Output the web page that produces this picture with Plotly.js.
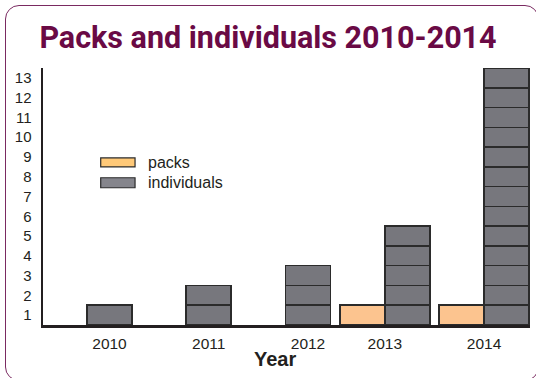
<!DOCTYPE html>
<html>
<head>
<meta charset="utf-8">
<script src="https://cdn.plot.ly/plotly-3.0.1.min.js"></script>
<style>
html,body{margin:0;padding:0;background:#fff;}
#wrap{position:relative;width:536px;height:378px;overflow:hidden;}
#chart{position:absolute;left:0;top:0;width:536px;height:378px;}
#frame{position:absolute;left:5px;top:5px;width:534px;height:376px;border:1.5px solid #7a2a61;border-radius:14px;pointer-events:none;box-sizing:border-box;}
</style>
</head>
<body>
<div id="wrap"><div id="chart"></div><div id="frame"></div></div>
<script>
// Data
const years = [2010, 2011, 2012, 2013, 2014];
const yearLabels = ['2010', '2011', '2012', '2013', '2014'];
const packs = [0, 0, 0, 1, 1];
const individuals = [1, 2, 3, 5, 13];
const yTickLabels = ['1','2','3','4','5','6','7','8','9','10','11','12','13'];

const barW = 0.453;
const packColor = '#fcc48f';
const indColor = '#77777d';
const edge = {color: '#2b2b2b', width: 1.6};
const txtFont = 'Liberation Sans, Arial';

const traces = [];
function unitTraces(values, xs, color, name) {
  const maxV = Math.max(...values);
  for (let k = 1; k <= maxV; k++) {
    traces.push({
      type: 'bar', name: name, showlegend: false, hoverinfo: 'skip',
      x: xs, y: values.map(v => v >= k ? 1 : null),
      width: xs.map(() => barW),
      marker: {color: color, line: edge}
    });
  }
}
const indX = years.slice();
const packX = years.map(y => y - barW);
unitTraces(individuals, indX, indColor, 'individuals');
unitTraces(packs, packX, packColor, 'packs');

// tick positions: centre of the bars present in each year
const tickVals = years.map((y, i) => {
  const c = [];
  if (packs[i] > 0) c.push(packX[i]);
  if (individuals[i] > 0) c.push(indX[i]);
  return c.reduce((a, b) => a + b, 0) / c.length;
});
const yTickVals = yTickLabels.map((t, i) => i + 0.5);

const layout = {
  width: 536, height: 378,
  margin: {l: 43, r: 6, t: 68, b: 53},
  paper_bgcolor: '#fff', plot_bgcolor: '#fff',
  barmode: 'stack',
  showlegend: false,
  title: {text: 'Packs and individuals 2010-2014', x: 0.5, xanchor: 'center', y: 0.9, yref: 'container', yanchor: 'middle',
    font: {family: 'Roboto', size: 30.5, color: '#6a0a45', weight: 700}},
  xaxis: {
    range: [2009.33, 2014.237], showgrid: false, zeroline: false,
    tickvals: tickVals, ticktext: yearLabels, ticks: '', ticklabelstandoff: 3,
    showline: true, linecolor: '#231f20', linewidth: 2.5,
    tickfont: {family: txtFont, size: 15.5, color: '#231f20'}
  },
  yaxis: {
    range: [0, 13], showgrid: false, zeroline: false,
    tickvals: yTickVals, ticktext: yTickLabels, ticks: '', ticklabelstandoff: 6,
    showline: true, linecolor: '#231f20', linewidth: 2.5,
    tickfont: {family: txtFont, size: 15, color: '#231f20'}
  },
  shapes: [
    {type: 'rect', xref: 'paper', yref: 'paper', x0: 0.1185, x1: 0.189, y0: 0.615, y1: 0.65,
      fillcolor: '#ffc978', line: {color: '#2b2b2b', width: 1.2}},
    {type: 'rect', xref: 'paper', yref: 'paper', x0: 0.1185, x1: 0.189, y0: 0.534, y1: 0.573,
      fillcolor: '#85858c', line: {color: '#2b2b2b', width: 1.2}}
  ],
  annotations: [
    {xref: 'paper', yref: 'paper', x: 0.212, y: 0.633, xanchor: 'left', yanchor: 'middle', showarrow: false,
      text: 'packs', font: {family: txtFont, size: 16, color: '#231f20'}},
    {xref: 'paper', yref: 'paper', x: 0.212, y: 0.553, xanchor: 'left', yanchor: 'middle', showarrow: false,
      text: 'individuals', font: {family: txtFont, size: 16, color: '#231f20'}},
    {xref: 'paper', yref: 'paper', x: 0.476, y: -0.132, xanchor: 'center', yanchor: 'middle', showarrow: false,
      text: '<b>Year</b>', font: {family: txtFont, size: 20, color: '#231f20'}}
  ]
};
Plotly.newPlot('chart', traces, layout, {displayModeBar: false, staticPlot: true});
</script>
</body>
</html>
